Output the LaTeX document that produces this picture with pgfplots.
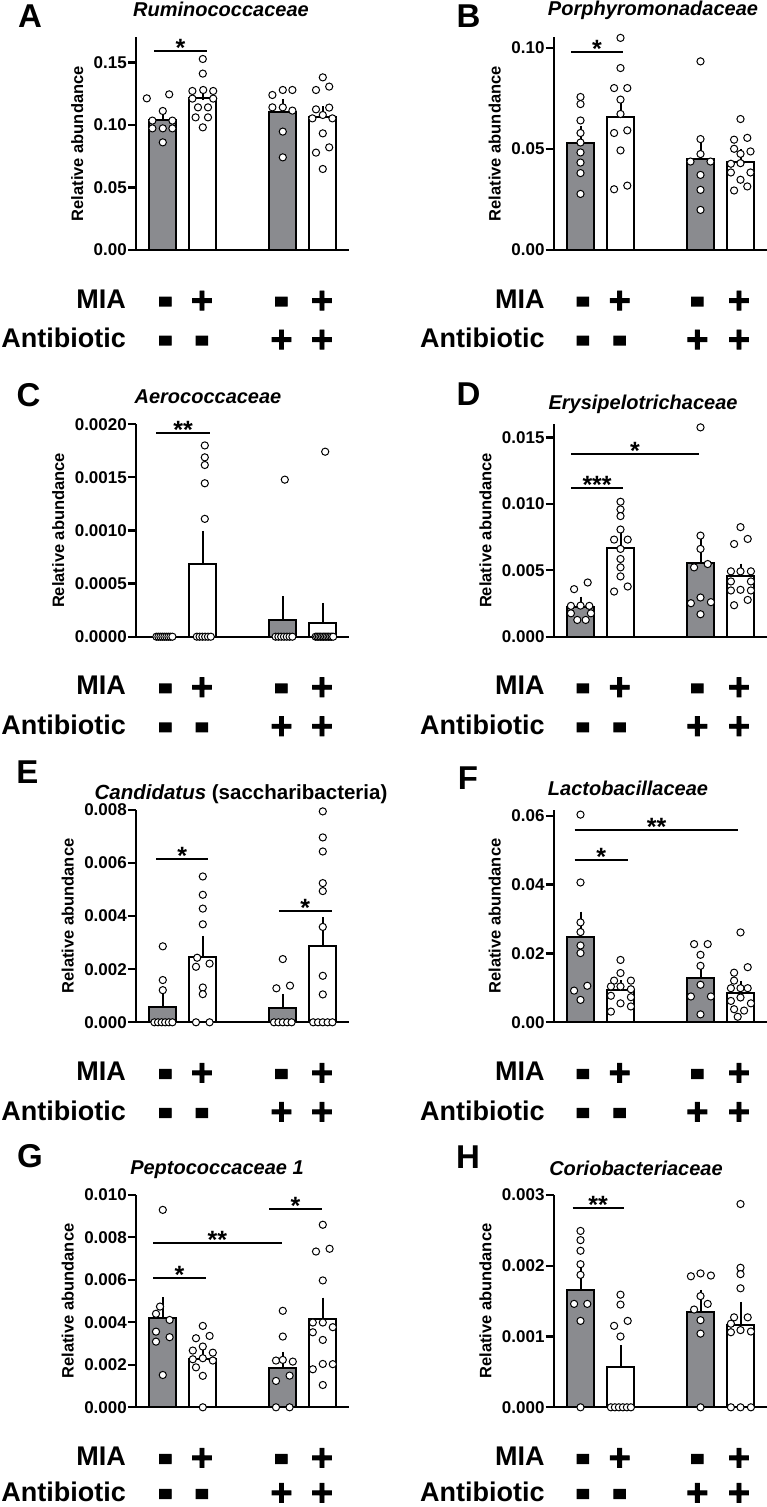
\documentclass[border=0pt]{standalone}
\usepackage{fontspec}
\setmainfont{Liberation Sans}
\newfontfamily\pmfont{Liberation Sans Bold}[FakeBold=2]
\usepackage{graphicx}
\usepackage{pgfplots}
\pgfplotsset{compat=1.18}
\definecolor{barGray}{RGB}{138,139,143}

\newcommand{\tfont}{\fontsize{17}{17}\selectfont\bfseries}
\newcommand{\rowfont}{\fontsize{27}{27}\selectfont\bfseries}
\newcommand{\ttl}{\fontsize{20}{20}\selectfont\bfseries\itshape}
\newcommand{\pl}{{\pmfont\fontsize{38}{38}\selectfont +}}
\newcommand{\mn}{{\pmfont\fontsize{38}{38}\selectfont\scalebox{1.2}[1.9]{-}}}

\pgfplotsset{
  panel/.style={
    scale only axis, width=213pt, height=212.5pt,
    xmin=0.33, xmax=5.655, ymin=0, clip=false,
    axis lines=left, axis line style={-, line width=2.2pt, black},
    x axis line style={-}, y axis line style={-},
    xtick=\empty, tick align=outside, major tick length=8pt,
    tick style={line width=2.2pt, black},
    scaled y ticks=false,
    yticklabel style={font=\tfont, inner sep=1pt},
    ylabel={Relative abundance}, ylabel shift=6pt,
    ylabel style={font=\fontsize{16.5}{16.5}\selectfont\bfseries},
    /pgf/number format/fixed, /pgf/number format/fixed zerofill,
    /pgf/number format/assume math mode=true,
  },
  barbase/.style={ybar, bar shift=0pt, bar width=27pt, fill=#1, draw=black,
    line width=2pt, error bars/.cd, y dir=plus, y explicit,
    error bar style={line width=2pt, black},
    error mark options={line width=2pt, mark size=5.5pt, black}},
  gbar/.style={barbase=barGray},
  wbar/.style={barbase=white},
  dots/.style={only marks, mark=*, mark size=3.6pt,
    mark options={fill=white, draw=black, line width=1pt}},
}

% significance bracket: x1, x2, y, midpoint, stars
\newcommand{\sig}[5]{%
  \draw[line width=2pt] (axis cs:#1,#3) -- (axis cs:#2,#3);
  \node[anchor=base, inner sep=0pt, font=\fontsize{25}{25}\selectfont\bfseries]
    at ([yshift=-5.5pt]axis cs:#4,#3) {#5};}

% MIA / Antibiotic rows: name right edge, axis bottom, four group x, extra lift of 2nd row
\newcommand{\signs}[7]{%
  \node[anchor=base east, font=\rowfont, inner sep=0pt] at (#1,#2-58.3) {MIA};
  \node[anchor=base east, font=\rowfont, inner sep=0pt] at (#1,#2-98+#7) {Antibiotic};
  \node[anchor=base, inner sep=0pt] at (#3,#2-70.4) {\mn};
  \node[anchor=base, inner sep=0pt] at (#4,#2-63.2) {\pl};
  \node[anchor=base, inner sep=0pt] at (#5,#2-70.4) {\mn};
  \node[anchor=base, inner sep=0pt] at (#6,#2-63.2) {\pl};
  \node[anchor=base, inner sep=0pt] at (#3,#2-109.4+#7) {\mn};
  \node[anchor=base, inner sep=0pt] at (#4,#2-109.4+#7) {\mn};
  \node[anchor=base, inner sep=0pt] at (#5,#2-102.2+#7) {\pl};
  \node[anchor=base, inner sep=0pt] at (#6,#2-102.2+#7) {\pl};}

\begin{document}
\begin{tikzpicture}[x=1pt, y=1pt]
\useasboundingbox (0,0) rectangle (767,1507);

% ---------- A ----------
\begin{axis}[panel, at={(136pt,1257pt)}, anchor=south west, ymax=0.17,
  ytick={0,0.05,0.1,0.15}, /pgf/number format/precision=2]
\addplot[gbar] coordinates {(1,0.104) +- (0,0.0045) (4,0.1104) +- (0,0.006)};
\addplot[wbar] coordinates {(2,0.1219) +- (0,0.0026) (5,0.1067) +- (0,0.004)};
\addplot[dots] coordinates {
 (0.60,0.1213)(1.16,0.1245)(1.00,0.1112)(0.74,0.1035)(1.24,0.1035)(0.74,0.0973)(1.00,0.0973)(1.24,0.0973)(1.00,0.0861)
 (2.00,0.1528)(2.00,0.1411)(1.74,0.1272)(2.01,0.128)(2.26,0.1272)(1.74,0.1211)(2.26,0.1211)(1.88,0.1141)(2.13,0.1141)(1.82,0.1061)(2.13,0.1061)(2.00,0.0981)
 (3.74,0.124)(4.00,0.128)(4.24,0.128)(3.74,0.1141)(4.00,0.1141)(4.24,0.1115)(4.00,0.0947)(4.00,0.0741)
 (5.00,0.1381)(4.83,0.128)(5.16,0.1307)(4.83,0.1125)(5.16,0.1139)(5.00,0.108)(4.74,0.1053)(5.24,0.1053)(5.00,0.0933)(4.83,0.0779)(5.16,0.0821)(5.00,0.0648)};
\sig{0.78}{2.11}{0.1595}{1.445}{*}
\end{axis}

% ---------- B ----------
\begin{axis}[panel, at={(553.7pt,1257pt)}, anchor=south west, ymax=0.105,
  ytick={0,0.05,0.1}, /pgf/number format/precision=2]
\addplot[gbar] coordinates {(1,0.0531) +- (0,0.0055) (4,0.045) +- (0,0.0073)};
\addplot[wbar] coordinates {(2,0.0657) +- (0,0.0074) (5,0.0437) +- (0,0.0033)};
\addplot[dots] coordinates {
 (1,0.0756)(1,0.0721)(1,0.064)(1,0.0578)(1,0.0531)(1,0.0482)(1,0.0432)(1,0.038)(1,0.0277)
 (2,0.1048)(2,0.0899)(1.84,0.08)(2.17,0.08)(2,0.0743)(2,0.0672)(1.84,0.0578)(2.17,0.0591)(2,0.0492)(1.84,0.03)(2.17,0.0318)
 (4,0.0932)(4,0.0548)(4,0.0474)(3.75,0.0437)(4.25,0.0437)(4,0.0371)(4,0.0297)(4,0.0198)
 (5,0.0647)(4.84,0.0545)(5.17,0.0554)(4.84,0.05)(5,0.0475)(5.25,0.0487)(4.76,0.0426)(5,0.0429)(4.76,0.0383)(5.25,0.0383)(5,0.0347)(4.84,0.0294)(5.17,0.0314)};
\sig{0.77}{2.06}{0.0979}{1.415}{*}
\end{axis}

% ---------- C ----------
\begin{axis}[panel, at={(136pt,870.3pt)}, anchor=south west, ymax=0.002,
  ytick={0,0.0005,0.001,0.0015,0.002}, /pgf/number format/precision=4]
\addplot[gbar] coordinates {(4,0.000156) +- (0,0.000172)};
\addplot[wbar] coordinates {(2,0.000688) +- (0,0.000256) (5,0.000125) +- (0,0.000141)};
\addplot[dots] coordinates {
 (0.84,0)(0.89,0)(0.94,0)(0.99,0)(1.04,0)(1.09,0)(1.14,0)(1.19,0)(1.24,0)
 (2.05,0.0018)(2.05,0.001688)(2.05,0.001616)(2.05,0.001444)(2.05,0.001109)(1.85,0)(1.92,0)(1.99,0)(2.06,0)(2.13,0)(2.2,0)
 (4.05,0.001478)(3.82,0)(3.89,0)(3.96,0)(4.03,0)(4.1,0)(4.17,0)(4.24,0)
 (5.06,0.001741)(4.82,0)(4.86,0)(4.9,0)(4.94,0)(4.98,0)(5.02,0)(5.06,0)(5.1,0)(5.14,0)(5.18,0)(5.22,0)(5.26,0)};
\sig{0.84}{2.175}{0.001916}{1.51}{**}
\end{axis}

% ---------- D ----------
\begin{axis}[panel, at={(553.7pt,870.3pt)}, anchor=south west, ymax=0.016,
  ytick={0,0.005,0.01,0.015}, /pgf/number format/precision=3]
\addplot[gbar] coordinates {(1,0.00222) +- (0,0.00038) (4,0.00555) +- (0,0.00151)};
\addplot[wbar] coordinates {(2,0.00668) +- (0,0.00076) (5,0.00459) +- (0,0.0005)};
\addplot[dots] coordinates {
 (0.84,0.00358)(1.18,0.00408)(0.76,0.00232)(1,0.00234)(1.22,0.00232)(0.76,0.00176)(1.26,0.00176)(0.92,0.00126)(1.13,0.00126)
 (2,0.01016)(2,0.00958)(2,0.00908)(2,0.00807)(1.84,0.00731)(2.18,0.00731)(2,0.00661)(2,0.00585)(2,0.00522)(2,0.00454)(1.84,0.0034)(2.18,0.00378)
 (4,0.01576)(4,0.00761)(4,0.00661)(3.84,0.00522)(4.18,0.00547)(3.76,0.00252)(4,0.00295)(4.26,0.0026)(4,0.00169)
 (5,0.00825)(4.84,0.00698)(5.18,0.00736)(4.76,0.00492)(5,0.00492)(5.26,0.00492)(4.76,0.00416)(5.26,0.00416)(4.76,0.00348)(5,0.00353)(5.26,0.00348)(5.18,0.00277)(4.84,0.00237)};
\sig{0.77}{2.06}{0.01117}{1.415}{***}
\sig{0.77}{3.96}{0.01374}{2.365}{*}
\end{axis}

% ---------- E ----------
\begin{axis}[panel, at={(136pt,484.7pt)}, anchor=south west, ymax=0.008,
  ytick={0,0.002,0.004,0.006,0.008}, /pgf/number format/precision=3]
\addplot[gbar] coordinates {(1,0.000588) +- (0,0.000375) (4,0.000525) +- (0,0.000337)};
\addplot[wbar] coordinates {(2,0.00246) +- (0,0.00059) (5,0.00288) +- (0,0.00087)};
\addplot[dots] coordinates {
 (1,0.00286)(1,0.00159)(1,0.00121)(0.79,0)(0.88,0)(0.97,0)(1.06,0)(1.15,0)(1.24,0)
 (2,0.00549)(2,0.0048)(2,0.00428)(2,0.00369)(1.86,0.00243)(1.83,0.00209)(2.17,0.00221)(2,0.00131)(2,0.00106)(1.83,0)(2.17,0)
 (4,0.00238)(3.84,0.00128)(4.18,0.00138)(3.78,0)(3.89,0)(4,0)(4.11,0)(4.22,0)
 (5,0.00794)(5,0.00696)(5,0.00643)(5,0.00524)(5,0.00494)(5,0.00359)(5,0.00175)(5,0.00105)(4.76,0)(4.88,0)(5,0)(5.12,0)(5.24,0)};
\sig{0.84}{2.13}{0.00615}{1.485}{*}
\sig{3.9}{5.22}{0.00419}{4.56}{*}
\end{axis}

% ---------- F ----------
\begin{axis}[panel, at={(553.7pt,484.7pt)}, anchor=south west, ymax=0.0617,
  ytick={0,0.02,0.04,0.06}, /pgf/number format/precision=2]
\addplot[gbar] coordinates {(1,0.0247) +- (0,0.0058) (4,0.0128) +- (0,0.0026)};
\addplot[wbar] coordinates {(2,0.0094) +- (0,0.0012) (5,0.0086) +- (0,0.0018)};
\addplot[dots] coordinates {
 (1,0.0603)(1,0.0406)(1,0.029)(1,0.0262)(1,0.0223)(1,0.0201)(0.84,0.0092)(1.17,0.0106)(1,0.0065)
 (2,0.0181)(2,0.0143)(1.84,0.0121)(2.26,0.0121)(1.76,0.0104)(2,0.0104)(2.26,0.0096)(1.76,0.0077)(2.26,0.0073)(2,0.0055)(2.26,0.0046)(1.76,0.0031)
 (3.84,0.0227)(4.18,0.0227)(4,0.0196)(4,0.0164)(4,0.0109)(3.76,0.0075)(4.26,0.0075)(4,0.0023)
 (5,0.0261)(4.84,0.0144)(5.18,0.016)(4.84,0.0121)(4.76,0.0099)(5,0.0099)(5.18,0.0099)(5,0.0072)(4.76,0.0062)(5.26,0.0055)(4.84,0.0038)(5.09,0.0034)(4.93,0.0016)};
\sig{0.854}{2.19}{0.0472}{1.52}{*}
\sig{0.854}{4.94}{0.0557}{2.9}{**}
\end{axis}

% ---------- G ----------
\begin{axis}[panel, at={(136pt,99.7pt)}, anchor=south west, ymax=0.01,
  ytick={0,0.002,0.004,0.006,0.008,0.01}, /pgf/number format/precision=3]
\addplot[gbar] coordinates {(1,0.00419) +- (0,0.00074) (4,0.00184) +- (0,0.00051)};
\addplot[wbar] coordinates {(2,0.00228) +- (0,0.00034) (5,0.00416) +- (0,0.00074)};
\addplot[dots] coordinates {
 (1,0.00929)(0.93,0.00474)(0.83,0.0044)(1.17,0.00411)(0.83,0.00356)(1.17,0.0033)(0.83,0.00309)(1,0.00152)
 (2,0.00383)(1.83,0.00325)(2.17,0.00336)(2,0.00286)(1.75,0.00267)(2.25,0.00257)(1.75,0.00226)(2,0.00231)(2.25,0.0022)(1.83,0.00188)(2,0.00148)(2,0)
 (4,0.00454)(4,0.00333)(3.83,0.0022)(4,0.00223)(4.25,0.00215)(3.83,0.00124)(4.17,0.00149)(3.83,0)(4.17,0)
 (5,0.00859)(4.83,0.00733)(5.17,0.00746)(5,0.00597)(4.75,0.00399)(5,0.00399)(5.25,0.00377)(4.75,0.00353)(5,0.00317)(4.75,0.00179)(5,0.00204)(5.25,0.00203)(5,0.00105)};
\sig{0.76}{2.075}{0.00608}{1.42}{*}
\sig{0.76}{3.97}{0.00772}{2.365}{**}
\sig{3.66}{4.97}{0.00933}{4.315}{*}
\end{axis}

% ---------- H ----------
\begin{axis}[panel, at={(553.7pt,99.7pt)}, anchor=south west, ymax=0.003,
  ytick={0,0.001,0.002,0.003}, /pgf/number format/precision=3]
\addplot[gbar] coordinates {(1,0.00166) +- (0,0.00027) (4,0.00135) +- (0,0.00023)};
\addplot[wbar] coordinates {(2,0.000565) +- (0,0.00023) (5,0.00116) +- (0,0.00025)};
\addplot[dots] coordinates {
 (1,0.00249)(1,0.00236)(1,0.00221)(1,0.00202)(1,0.00187)(0.84,0.00146)(1.17,0.00146)(1,0.00122)(1,0)
 (2,0.00159)(2,0.00145)(1.84,0.00115)(2.18,0.00122)(2,0.001)(1.76,0)(1.86,0)(1.96,0)(2.06,0)(2.16,0)(2.26,0)
 (3.76,0.00185)(4,0.00189)(4.26,0.00186)(4,0.00157)(3.84,0.00138)(4.18,0.00146)(4,0.00123)(4,0.00104)(4,0)
 (5,0.00287)(5,0.00197)(5,0.00188)(5,0.00168)(4.84,0.00127)(5.18,0.00127)(4.76,0.00118)(4.76,0.00106)(5,0.00109)(5.26,0.00107)(4.76,0)(5,0)(5.26,0)};
\sig{0.80}{2.08}{0.00281}{1.44}{**}
\end{axis}

% panel letters
\foreach \l/\x/\y in {A/30/1491, B/468.5/1491, C/28.5/1112, D/468.5/1113,
                      E/27.5/734.5, F/468/729, G/30/350.5, H/468/350}
  \node[font=\fontsize{33}{33}\selectfont\bfseries, inner sep=0pt] at (\x,\y) {\l};

% titles
\node[anchor=base, font=\ttl, inner sep=0pt] at (221,1490) {Ruminococcaceae};
\node[anchor=base, font=\ttl, inner sep=0pt] at (653,1491) {Porphyromonadaceae};
\node[anchor=base, font=\ttl, inner sep=0pt] at (208,1103) {Aerococcaceae};
\node[anchor=base, font=\ttl, inner sep=0pt] at (643,1097) {Erysipelotrichaceae};
\node[anchor=base, font=\fontsize{20.5}{20.5}\selectfont\bfseries, inner sep=0pt] at (241,707.7) {\textit{Candidatus} (saccharibacteria)};
\node[anchor=base, font=\ttl, inner sep=0pt] at (628,711) {Lactobacillaceae};
\node[anchor=base, font=\ttl, inner sep=0pt] at (217,332) {Peptococcaceae 1};
\node[anchor=base, font=\ttl, inner sep=0pt] at (636,331) {Coriobacteriaceae};

% treatment rows
\signs{126}{1257}{165.5}{202}{281.5}{322}{0}
\signs{544.7}{1257}{583}{619.7}{697.3}{739}{0}
\signs{126}{870.3}{165.5}{202}{281.5}{322}{0}
\signs{544.7}{870.3}{583}{619.7}{697.3}{739}{0}
\signs{126}{484.7}{165.5}{202}{281.5}{322}{0}
\signs{544.7}{484.7}{583}{619.7}{697.3}{739}{0}
\signs{126}{99.7}{165.5}{202}{281.5}{322}{4}
\signs{544.7}{99.7}{583}{619.7}{697.3}{739}{4}
\end{tikzpicture}
\end{document}
